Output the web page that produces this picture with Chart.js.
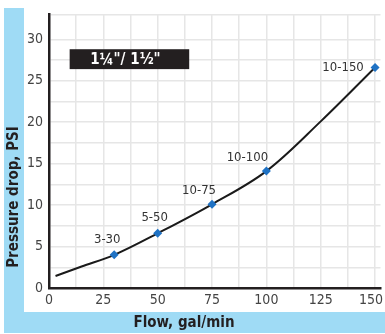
<!DOCTYPE html>
<html>
<head>
<meta charset="utf-8">
<script src="https://cdn.jsdelivr.net/npm/chart.js@4"></script>
<style>
  html, body { margin: 0; padding: 0; background: #fff; }
  #wrap { width: 385px; height: 334px; position: relative; }
</style>
</head>
<body>
<div id="wrap"><canvas id="chart" width="385" height="334"></canvas></div>
<script>
// curve (flow gal/min -> pressure drop PSI)
const curveFlow = [3, 15, 30, 50, 75, 100, 125, 150];
const curvePsi  = [1.45, 2.6, 4.0, 6.6, 10.1, 14.1, 20.1, 26.6];

// marked points and their labels
const pointFlow   = [30, 50, 75, 100, 150];
const pointPsi    = [4.0, 6.6, 10.1, 14.1, 26.6];
const pointLabels = ['3-30', '5-50', '10-75', '10-100', '10-150'];

const sizeLabel = '1\u00BC"/ 1\u00BD"';
const xTitle = 'Flow, gal/min';
const yTitle = 'Pressure drop, PSI';

const FONT = '"Liberation Sans Narrow", "DejaVu Sans Condensed", sans-serif';
const BLUE = '#9fdbf5';
const labelOffsets = [[-7, -15], [-3, -16], [-13, -14], [-19, -13], [-32, 0]];

const decor = {
  id: 'decor',
  beforeDraw(chart) {
    const ctx = chart.ctx;
    ctx.save();
    ctx.fillStyle = '#fff';
    ctx.fillRect(0, 0, chart.width, chart.height);
    ctx.fillStyle = BLUE;
    ctx.fillRect(4, 8, 20, 325);
    ctx.fillRect(4, 312, chart.width - 4, 21);
    ctx.restore();
  },
  afterDatasetsDraw(chart) {
    const ctx = chart.ctx;
    const xs = chart.scales.x, ys = chart.scales.y;
    ctx.save();

    // size box
    const bx0 = xs.getPixelForValue(9.5), bx1 = xs.getPixelForValue(64.5);
    const by0 = ys.getPixelForValue(28.8), by1 = ys.getPixelForValue(26.4);
    ctx.fillStyle = '#231f20';
    ctx.fillRect(bx0, by0, bx1 - bx0, by1 - by0);
    ctx.fillStyle = '#fff';
    ctx.font = 'bold 15px ' + FONT;
    ctx.textAlign = 'center';
    ctx.textBaseline = 'middle';
    ctx.fillText(sizeLabel, (bx0 + bx1) / 2 - 4, (by0 + by1) / 2 + 1);

    // point labels
    ctx.fillStyle = '#333';
    ctx.font = '13px ' + FONT;
    pointFlow.forEach((f, i) => {
      const px = xs.getPixelForValue(f), py = ys.getPixelForValue(pointPsi[i]);
      ctx.fillText(pointLabels[i], px + labelOffsets[i][0], py + labelOffsets[i][1]);
    });

    // axis titles
    ctx.fillStyle = '#231f20';
    ctx.font = 'bold 15px ' + FONT;
    ctx.fillText(xTitle, 184, 323);
    ctx.translate(14, 197);
    ctx.rotate(-Math.PI / 2);
    ctx.fillText(yTitle, 0, 0);
    ctx.restore();
  }
};

const tickFont = { family: FONT, size: 14 };

new Chart(document.getElementById('chart').getContext('2d'), {
  type: 'line',
  data: {
    datasets: [
      {
        type: 'scatter',
        data: pointFlow.map((f, i) => ({ x: f, y: pointPsi[i] })),
        pointStyle: 'rectRot',
        pointRadius: 4.5,
        backgroundColor: '#1f72c4',
        borderColor: '#1f72c4',
        borderWidth: 0,
        showLine: false,
        order: 0
      },
      {
        data: curveFlow.map((f, i) => ({ x: f, y: curvePsi[i] })),
        borderColor: '#1a1a1a',
        borderWidth: 2,
        pointRadius: 0,
        tension: 0.35,
        fill: false,
        order: 1
      }
    ]
  },
  options: {
    responsive: false,
    animation: false,
    layout: { padding: { top: 8, left: 4, right: 2, bottom: 0 } },
    plugins: { legend: { display: false }, tooltip: { enabled: false } },
    scales: {
      x: {
        type: 'linear',
        min: 0, max: 152.5,
        afterFit: s => { s.height = 46; s.paddingRight = 0; s.paddingLeft = 0; },
        grid: { color: '#e6e6e6', lineWidth: 1.5, drawTicks: false },
        border: { color: '#231f20', width: 2.5 },
        ticks: {
          stepSize: 12.5, autoSkip: false, maxRotation: 0, padding: 4,
          maxTicksLimit: 100, includeBounds: false,
          color: '#444', font: tickFont,
          callback: v => (v % 25 !== 0 ? '' : v === 150 ? '150  ' : v)
        }
      },
      y: {
        type: 'linear',
        min: 0, max: 33,
        afterFit: s => { s.width = 45; },
        grid: { color: '#e6e6e6', lineWidth: 1.5, drawTicks: false },
        border: { color: '#231f20', width: 2.5 },
        ticks: {
          stepSize: 2.5, autoSkip: false, padding: 6,
          maxTicksLimit: 100,
          color: '#444', font: tickFont,
          callback: v => (v % 5 === 0 ? v : '')
        }
      }
    }
  },
  plugins: [decor]
});
</script>
</body>
</html>
